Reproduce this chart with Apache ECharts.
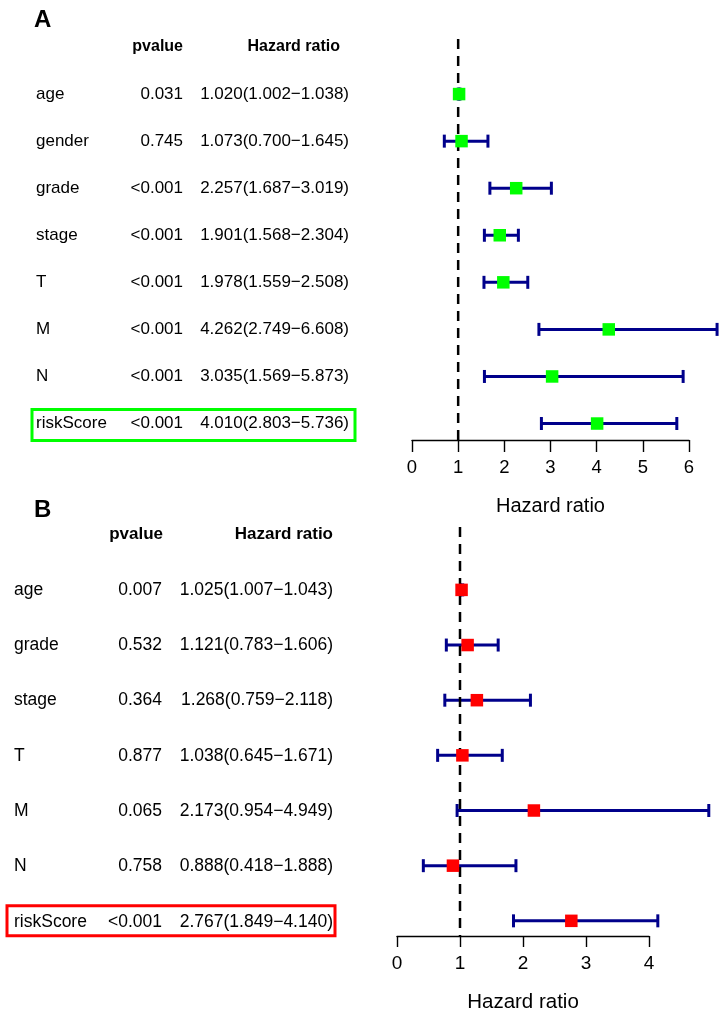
<!DOCTYPE html>
<html><head><meta charset="utf-8">
<script src="https://cdn.jsdelivr.net/npm/echarts@6/dist/echarts.min.js"></script>
<style>html,body{margin:0;padding:0;background:#fff}#c{width:723px;height:1014px}</style>
</head><body><div id="c"></div>
<script>
// ---------- data ----------
const namesA = ['age','gender','grade','stage','T','M','N','riskScore'];
const pvalA  = ['0.031','0.745','<0.001','<0.001','<0.001','<0.001','<0.001','<0.001'];
const hrA    = [1.020,1.073,2.257,1.901,1.978,4.262,3.035,4.010];
const lowA   = [1.002,0.700,1.687,1.568,1.559,2.749,1.569,2.803];
const highA  = [1.038,1.645,3.019,2.304,2.508,6.608,5.873,5.736];
const ticksA = [0,1,2,3,4,5,6];

const namesB = ['age','grade','stage','T','M','N','riskScore'];
const pvalB  = ['0.007','0.532','0.364','0.877','0.065','0.758','<0.001'];
const hrB    = [1.025,1.121,1.268,1.038,2.173,0.888,2.767];
const lowB   = [1.007,0.783,0.759,0.645,0.954,0.418,1.849];
const highB  = [1.043,1.606,2.118,1.671,4.949,1.888,4.140];
const ticksB = [0,1,2,3,4];

const headers = ['pvalue','Hazard ratio'];
const refValue = 1;
const highlightName = 'riskScore';

// ---------- helpers ----------
const FF = '"Liberation Sans", Arial, Helvetica, sans-serif';
const fmt = v => v.toFixed(3);
const hrStr = (h,l,u) => fmt(h) + '(' + fmt(l) + '\u2212' + fmt(u) + ')';

function panel(cfg) {
  const g = cfg.gridBase; // plot grid index, table grid = g+1
  const s = [];
  // error bars
  s.push({
    type:'custom', xAxisIndex:g, yAxisIndex:g, clip:false, silent:true, z:2,
    data: cfg.low.map((l,i)=>[l, cfg.high[i], i]),
    encode:{x:[0,1], y:2},
    renderItem(params, api){
      const a = api.coord([api.value(0), api.value(2)]);
      const b = api.coord([api.value(1), api.value(2)]);
      const c = cfg.cap;
      const st = {stroke:'#00008B', lineWidth:3, lineCap:'butt'};
      return {type:'group', children:[
        {type:'line', shape:{x1:a[0],y1:a[1],x2:b[0],y2:b[1]}, style:st},
        {type:'line', shape:{x1:a[0],y1:a[1]-c,x2:a[0],y2:a[1]+c}, style:st},
        {type:'line', shape:{x1:b[0],y1:b[1]-c,x2:b[0],y2:b[1]+c}, style:st}
      ]};
    }
  });
  // reference dashed line
  s.push({
    type:'custom', xAxisIndex:g, yAxisIndex:g, clip:false, silent:true, z:3,
    data:[[refValue]], encode:{x:0},
    renderItem(params, api){
      const cs = params.coordSys;
      const x = api.coord([api.value(0), 0])[0];
      return {type:'line', shape:{x1:x,y1:cs.y,x2:x,y2:cs.y+cs.height},
        style:{stroke:'#000', lineWidth:2.5, lineDash:[10,7]}};
    }
  });
  // points
  s.push({
    type:'scatter', xAxisIndex:g, yAxisIndex:g, silent:true, z:4,
    symbol:'rect', symbolSize:12.5,
    itemStyle:{color:cfg.color, opacity:1},
    data: cfg.hr.map((v,i)=>[v,i])
  });
  // table header
  s.push({
    type:'custom', xAxisIndex:g+1, yAxisIndex:g+1, clip:false, silent:true,
    data:[[-1]], encode:{y:0},
    renderItem(params, api){
      const y = api.coord([0, api.value(0)])[1];
      return {type:'group', children: headers.map((h,k)=>({
        type:'text', x: api.coord([cfg.headX[k],0])[0], y: y,
        style:{text:h, fill:'#000', font:'bold ' + cfg.headSize + 'px ' + FF,
          align:'right', verticalAlign:'middle'}
      }))};
    }
  });
  // table rows
  s.push({
    type:'custom', xAxisIndex:g+1, yAxisIndex:g+1, clip:false, silent:true,
    data: cfg.names.map((nm,i)=>[i]), encode:{y:0},
    renderItem(params, api){
      const i = params.dataIndex;
      const y = api.coord([0, api.value(0)])[1];
      const f = cfg.fontSize + 'px ' + FF;
      return {type:'group', children:[
        {type:'text', x:api.coord([cfg.colX[0],0])[0], y:y,
          style:{text:cfg.names[i], fill:'#000', font:f, align:'left', verticalAlign:'middle'}},
        {type:'text', x:api.coord([cfg.colX[1],0])[0], y:y,
          style:{text:cfg.pval[i], fill:'#000', font:f, align:'right', verticalAlign:'middle'}},
        {type:'text', x:api.coord([cfg.colX[2],0])[0], y:y,
          style:{text:hrStr(cfg.hr[i],cfg.low[i],cfg.high[i]), fill:'#000', font:f, align:'right', verticalAlign:'middle'}}
      ]};
    }
  });
  // highlight box
  s.push({
    type:'custom', xAxisIndex:g+1, yAxisIndex:g+1, clip:false, silent:true,
    data:[[cfg.names.indexOf(highlightName)]], encode:{y:0},
    renderItem(params, api){
      const y = api.coord([0, api.value(0)])[1];
      const x1 = api.coord([cfg.box[0],0])[0], x2 = api.coord([cfg.box[1],0])[0];
      return {type:'rect', shape:{x:x1, y:y+cfg.box[2], width:x2-x1, height:cfg.box[3]},
        style:{fill:'none', stroke:cfg.color, lineWidth:3}};
    }
  });
  return s;
}

const chart = echarts.init(document.getElementById('c'), null, {renderer:'canvas'});

const gridA = {left:412, right:34, top:39, height:401};
const gridB = {left:397, right:74, top:527, height:410};
const yA = {min:-1.17, max:7.35};
const yB = {min:-1.14, max:6.275};

function xPlot(gi, ticks, tickLen, labSize, nameSize, nameGap, margin){
  return {gridIndex:gi, type:'value', min:ticks[0], max:ticks[ticks.length-1], interval:1,
    axisLine:{show:true, onZero:false, lineStyle:{color:'#000', width:1.4}},
    axisTick:{show:true, length:tickLen, lineStyle:{color:'#000', width:1.4}},
    axisLabel:{fontSize:labSize, color:'#000', margin:margin, fontFamily:FF, showMinLabel:true, showMaxLabel:true},
    splitLine:{show:false},
    name:'Hazard ratio', nameLocation:'middle', nameGap:nameGap,
    nameTextStyle:{fontSize:nameSize, color:'#000', fontFamily:FF}};
}
const xTable = gi => ({gridIndex:gi, type:'value', min:0, max:400, show:false});
const yAx = (gi, r) => ({gridIndex:gi, type:'value', min:r.min, max:r.max, inverse:true, show:false});

const option = {
  backgroundColor:'#fff',
  animation:false,
  title:[
    {text:'A', left:29, top:3, textStyle:{fontSize:24, fontWeight:'bold', color:'#000', fontFamily:FF}},
    {text:'B', left:29, top:493, textStyle:{fontSize:24, fontWeight:'bold', color:'#000', fontFamily:FF}}
  ],
  grid:[
    gridA,
    {left:0, width:400, top:gridA.top, height:gridA.height},
    gridB,
    {left:0, width:400, top:gridB.top, height:gridB.height}
  ],
  xAxis:[
    xPlot(0, ticksA, 12, 18.5, 20, 56, 18),
    xTable(1),
    xPlot(2, ticksB, 11, 19, 20.5, 56, 18),
    xTable(3)
  ],
  yAxis:[ yAx(0,yA), yAx(1,yA), yAx(2,yB), yAx(3,yB) ],
  series:[
    ...panel({gridBase:0, names:namesA, pval:pvalA, hr:hrA, low:lowA, high:highA,
      color:'#00FF00', cap:6.5, fontSize:17, headSize:16,
      colX:[36,183,349], headX:[183,340], box:[32,355,-14,31]}),
    ...panel({gridBase:2, names:namesB, pval:pvalB, hr:hrB, low:lowB, high:highB,
      color:'#FF0000', cap:6.5, fontSize:17.5, headSize:17,
      colX:[14,162,333], headX:[163,333], box:[7,335,-16,30]})
  ]
};
chart.setOption(option);
</script>
</body></html>
